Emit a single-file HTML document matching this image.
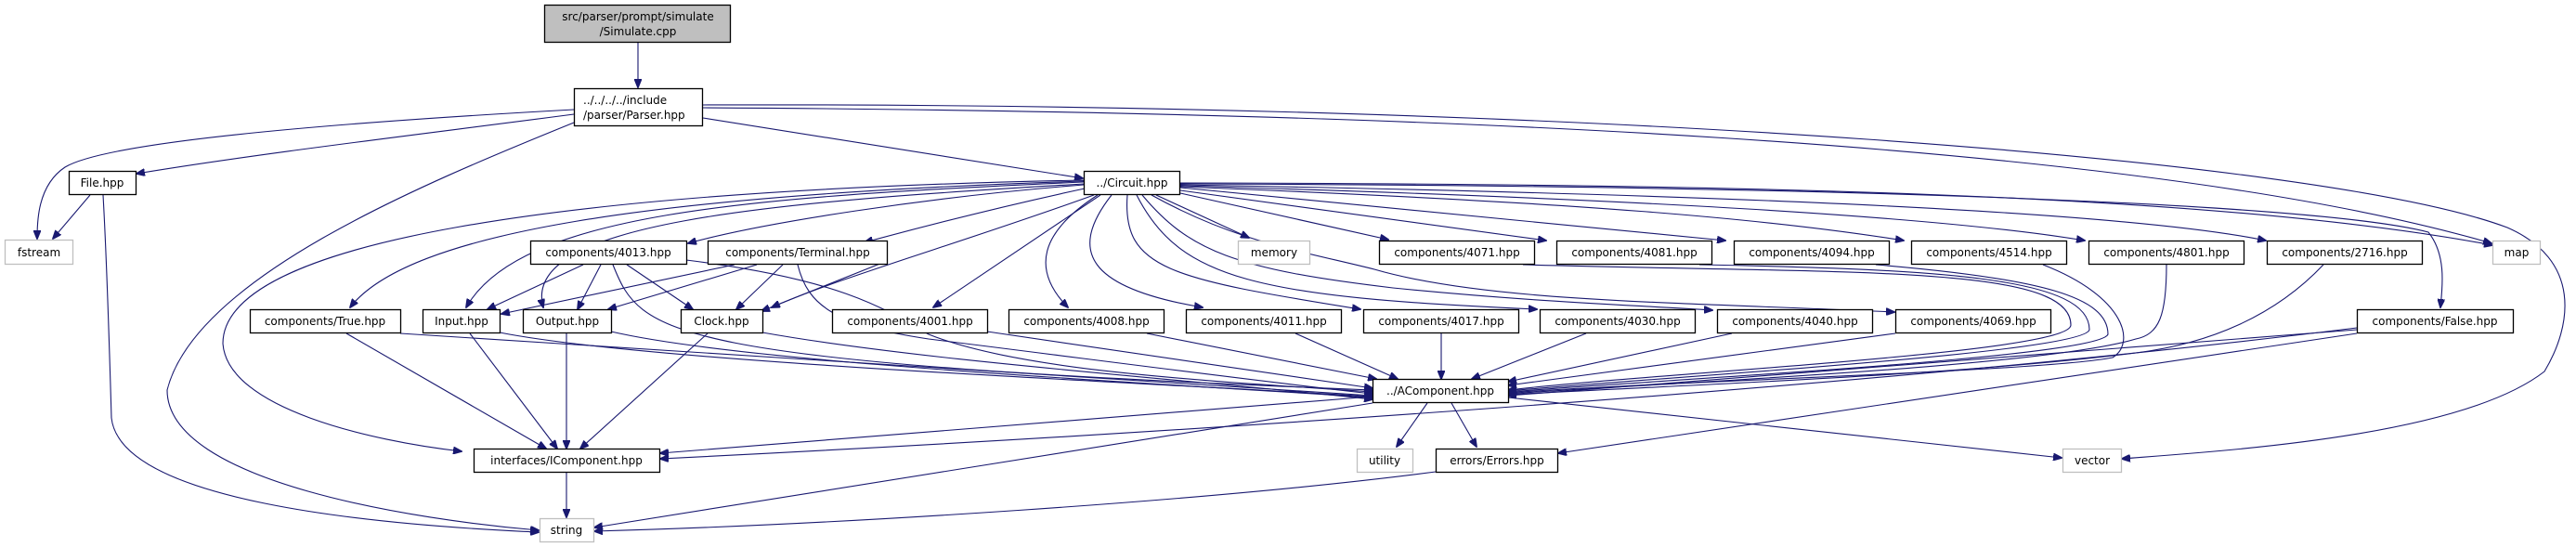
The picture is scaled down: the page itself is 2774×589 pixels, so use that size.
<!DOCTYPE html>
<html><head><meta charset="utf-8"><style>
html,body{margin:0;padding:0;background:#fff;}
svg{display:block;}
text{font-family:"DejaVu Sans","Liberation Sans",sans-serif;font-size:12px;fill:#000;}
.n{fill:#fff;stroke:#000;stroke-width:1.3;}
.g{fill:#fff;stroke:#bfbfbf;stroke-width:1.3;}
.e{fill:none;stroke:#191970;stroke-width:1.1;marker-end:url(#a);}
</style></head><body>
<svg width="2774" height="589" viewBox="0 0 2774 589" xmlns="http://www.w3.org/2000/svg">
<defs><marker id="a" markerWidth="10" markerHeight="8" refX="9" refY="4" orient="auto" markerUnits="userSpaceOnUse"><path d="M0,0 L10,4 L0,8 Z" fill="#191970" stroke="#191970"/></marker></defs>
<g>
<path class="e" d="M687,46 L687,94"/>
<path class="e" d="M618,118 C400,130 120,150 70,180 C40,200 40,240 40,257"/>
<path class="e" d="M618,123 C450,145 280,165 147,187"/>
<path class="e" d="M618,132 C450,200 210,300 180,420 C180,520 450,560 580,571"/>
<path class="e" d="M97,210 L57,257"/>
<path class="e" d="M111,210 C115,280 118,380 120,450 C130,540 400,565 580,573"/>
<path class="e" d="M757,127 L1166,192"/>
<path class="e" d="M757,116 C1500,120 2300,150 2683,262"/>
<path class="e" d="M757,113 C1700,110 2500,170 2700,245 C2780,280 2770,350 2740,400 C2650,470 2400,485 2285,494"/>
<path class="e" d="M1167,199 C1000,212 820,240 741,262"/>
<path class="e" d="M1168,203 C1080,222 990,245 931,261"/>
<path class="e" d="M1167,196 C800,212 560,230 502,331"/>
<path class="e" d="M1167,198 C820,218 560,240 585,331"/>
<path class="e" d="M1167,195 C700,210 440,250 377,331"/>
<path class="e" d="M1178,210 C1040,260 900,300 831,331"/>
<path class="e" d="M1167,194 C600,205 240,260 240,370 C245,440 400,475 497,486"/>
<path class="e" d="M1245,210 L1345,256"/>
<path class="e" d="M1185,210 L1005,331"/>
<path class="e" d="M1182,210 C1120,250 1110,290 1150,331"/>
<path class="e" d="M1197,210 C1150,270 1170,310 1295,331"/>
<path class="e" d="M1214,210 C1208,290 1260,300 1465,333"/>
<path class="e" d="M1224,210 C1270,300 1350,320 1655,333"/>
<path class="e" d="M1230,210 C1280,270 1330,290 1500,310 C1650,325 1750,328 1844,334"/>
<path class="e" d="M1240,210 C1330,260 1400,270 1480,290 C1600,325 1800,325 2040,336"/>
<path class="e" d="M1271,208 L1495,258"/>
<path class="e" d="M1271,205 L1665,259"/>
<path class="e" d="M1271,202 L1858,259"/>
<path class="e" d="M1271,201 C1700,218 1900,235 2050,259"/>
<path class="e" d="M1271,200 C1800,215 2100,235 2245,259"/>
<path class="e" d="M1271,199 C1900,210 2300,230 2440,259"/>
<path class="e" d="M1271,197 C1900,198 2400,210 2684,264"/>
<path class="e" d="M1271,198 C2000,200 2500,220 2615,250 C2635,275 2630,310 2628,331"/>
<path class="e" d="M1063,357 L1478,418"/>
<path class="e" d="M1235,359 L1482,408"/>
<path class="e" d="M1395,359 L1505,408"/>
<path class="e" d="M1552,359 L1552,408"/>
<path class="e" d="M1708,359 L1585,408"/>
<path class="e" d="M1865,359 L1624,411"/>
<path class="e" d="M2041,359 L1624,415"/>
<path class="e" d="M739,280 C900,300 950,330 1000,360 C1100,400 1300,410 1478,422"/>
<path class="e" d="M859,285 C870,330 900,350 1000,365 C1200,390 1350,410 1478,424"/>
<path class="e" d="M431,359 L1478,426"/>
<path class="e" d="M538,358 C700,390 1200,410 1478,427"/>
<path class="e" d="M658,357 C800,390 1200,410 1478,428"/>
<path class="e" d="M821,358 C1000,390 1300,410 1478,430"/>
<path class="e" d="M1640,285 C2000,295 2230,285 2230,350 C2230,380 1800,400 1624,420"/>
<path class="e" d="M1830,285 C2100,290 2250,300 2250,355 C2245,380 1800,405 1624,421"/>
<path class="e" d="M2020,285 C2200,300 2270,320 2270,360 C2260,385 1800,408 1624,422"/>
<path class="e" d="M2200,285 C2290,320 2300,370 2275,385 C2200,400 1800,410 1624,423"/>
<path class="e" d="M2333,285 C2333,340 2325,360 2300,365 C2200,395 1800,412 1624,424"/>
<path class="e" d="M2502,285 C2450,340 2380,370 2300,380 C2100,405 1800,415 1624,425"/>
<path class="e" d="M2538,355 L1624,426"/>
<path class="e" d="M2538,353 C2000,420 1200,470 711,494"/>
<path class="e" d="M2538,359 L1678,488"/>
<path class="e" d="M1478,427 L711,488"/>
<path class="e" d="M1478,434 L640,568"/>
<path class="e" d="M1537,434 L1504,481"/>
<path class="e" d="M1563,434 L1590,481"/>
<path class="e" d="M1624,428 L2220,493"/>
<path class="e" d="M1546,508 C1300,540 900,565 640,572"/>
<path class="e" d="M628,285 L525,333"/>
<path class="e" d="M647,285 L622,333"/>
<path class="e" d="M675,285 L746,333"/>
<path class="e" d="M660,285 C690,360 710,390 1478,420"/>
<path class="e" d="M791,285 L540,338"/>
<path class="e" d="M815,285 L655,333"/>
<path class="e" d="M843,285 L793,333"/>
<path class="e" d="M955,281 L820,335"/>
<path class="e" d="M373,359 L588,483"/>
<path class="e" d="M506,359 L600,483"/>
<path class="e" d="M610,359 L610,483"/>
<path class="e" d="M762,359 L625,483"/>
<path class="e" d="M610,509 L610,557"/>
</g>
<rect x="586.5" y="5.5" width="200" height="40" fill="#bfbfbf" stroke="#000" stroke-width="1.3"/>
<text x="687" y="22" text-anchor="middle">src/parser/prompt/simulate</text>
<text x="687" y="38" text-anchor="middle">/Simulate.cpp</text>
<rect class="n" x="618.5" y="95.5" width="138" height="40"/>
<text x="628" y="112">../../../../include</text>
<text x="628" y="128">/parser/Parser.hpp</text>
<rect class="n" x="74.5" y="184.5" width="72" height="25"/><text x="110" y="201" text-anchor="middle">File.hpp</text>
<rect class="g" x="5.5" y="258.5" width="73" height="26"/><text x="42" y="276" text-anchor="middle">fstream</text>
<rect class="n" x="1167.5" y="184.5" width="103" height="25"/><text x="1219" y="201" text-anchor="middle">../Circuit.hpp</text>
<rect class="n" x="571.5" y="259.5" width="168" height="25"/><text x="655" y="276" text-anchor="middle">components/4013.hpp</text>
<rect class="n" x="762.5" y="259.5" width="193" height="25"/><text x="859" y="276" text-anchor="middle">components/Terminal.hpp</text>
<rect class="g" x="1333.5" y="259.5" width="77" height="25"/><text x="1372" y="276" text-anchor="middle">memory</text>
<rect class="n" x="1485.5" y="259.5" width="167" height="25"/><text x="1569" y="276" text-anchor="middle">components/4071.hpp</text>
<rect class="n" x="1676.5" y="259.5" width="167" height="25"/><text x="1760" y="276" text-anchor="middle">components/4081.hpp</text>
<rect class="n" x="1867.5" y="259.5" width="167" height="25"/><text x="1951" y="276" text-anchor="middle">components/4094.hpp</text>
<rect class="n" x="2058.5" y="259.5" width="167" height="25"/><text x="2142" y="276" text-anchor="middle">components/4514.hpp</text>
<rect class="n" x="2249.5" y="259.5" width="167" height="25"/><text x="2333" y="276" text-anchor="middle">components/4801.hpp</text>
<rect class="n" x="2441.5" y="259.5" width="167" height="25"/><text x="2525" y="276" text-anchor="middle">components/2716.hpp</text>
<rect class="g" x="2684.5" y="259.5" width="51" height="25"/><text x="2710" y="276" text-anchor="middle">map</text>
<rect class="n" x="269.5" y="333.5" width="162" height="25"/><text x="350" y="350" text-anchor="middle">components/True.hpp</text>
<rect class="n" x="455.5" y="333.5" width="83" height="25"/><text x="497" y="350" text-anchor="middle">Input.hpp</text>
<rect class="n" x="563.5" y="333.5" width="95" height="25"/><text x="611" y="350" text-anchor="middle">Output.hpp</text>
<rect class="n" x="733.5" y="333.5" width="88" height="25"/><text x="777" y="350" text-anchor="middle">Clock.hpp</text>
<rect class="n" x="896.5" y="333.5" width="167" height="25"/><text x="980" y="350" text-anchor="middle">components/4001.hpp</text>
<rect class="n" x="1086.5" y="333.5" width="167" height="25"/><text x="1170" y="350" text-anchor="middle">components/4008.hpp</text>
<rect class="n" x="1277.5" y="333.5" width="167" height="25"/><text x="1361" y="350" text-anchor="middle">components/4011.hpp</text>
<rect class="n" x="1468.5" y="333.5" width="167" height="25"/><text x="1552" y="350" text-anchor="middle">components/4017.hpp</text>
<rect class="n" x="1658.5" y="333.5" width="167" height="25"/><text x="1742" y="350" text-anchor="middle">components/4030.hpp</text>
<rect class="n" x="1849.5" y="333.5" width="167" height="25"/><text x="1933" y="350" text-anchor="middle">components/4040.hpp</text>
<rect class="n" x="2041.5" y="333.5" width="167" height="25"/><text x="2125" y="350" text-anchor="middle">components/4069.hpp</text>
<rect class="n" x="2538.5" y="333.5" width="168" height="25"/><text x="2622" y="350" text-anchor="middle">components/False.hpp</text>
<rect class="n" x="1478.5" y="408.5" width="146" height="25"/><text x="1551" y="425" text-anchor="middle">../AComponent.hpp</text>
<rect class="n" x="510.5" y="483.5" width="200" height="25"/><text x="610" y="500" text-anchor="middle">interfaces/IComponent.hpp</text>
<rect class="g" x="1461.5" y="483.5" width="60" height="25"/><text x="1491" y="500" text-anchor="middle">utility</text>
<rect class="n" x="1546.5" y="483.5" width="131" height="25"/><text x="1612" y="500" text-anchor="middle">errors/Errors.hpp</text>
<rect class="g" x="2221.5" y="483.5" width="63" height="25"/><text x="2253" y="500" text-anchor="middle">vector</text>
<rect class="g" x="581.5" y="558.5" width="58" height="25"/><text x="610" y="575" text-anchor="middle">string</text>
</svg>
</body></html>
